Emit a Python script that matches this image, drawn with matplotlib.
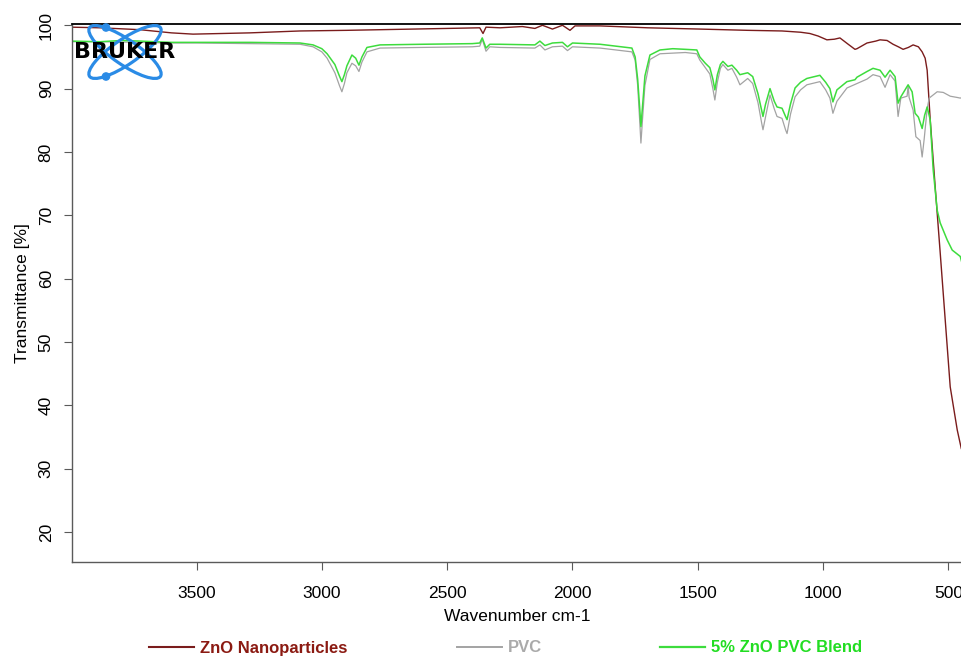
#!/usr/bin/env python3
"""
FTIR overlay: ZnO nanoparticles, neat PVC and the 5% ZnO / PVC blend.
Values read off the instrument printout (Bruker OPUS export).
"""

import matplotlib
matplotlib.use('Agg')
import matplotlib.pyplot as plt
from matplotlib.lines import Line2D
from matplotlib.patches import Ellipse, Circle

# ZnO nanoparticles
wn_zno = [4000, 3885, 3725, 3600, 3514, 3400, 3287, 3087, 2900, 2768,
          2500, 2370, 2357, 2345, 2289, 2200, 2150, 2120, 2080, 2040,
          2010, 1990, 1890, 1700, 1492, 1301, 1164, 1090, 1053, 1020,
          985, 955, 933, 900, 873, 865, 825, 790, 773, 745,
          721, 700, 681, 660, 641, 620, 605, 593, 585, 573,
          553, 533, 513, 493, 465, 449, 445]
t_zno = [99.7, 99.6, 99.3, 98.8, 98.6, 98.7, 98.8, 99.1, 99.2, 99.3,
         99.5, 99.6, 98.7, 99.7, 99.6, 99.8, 99.5, 100.0, 99.4, 100.0,
         99.2, 99.9, 99.9, 99.6, 99.4, 99.2, 99.1, 98.9, 98.7, 98.3,
         97.7, 97.8, 98.0, 97.0, 96.2, 96.3, 97.2, 97.5, 97.7, 97.6,
         97.0, 96.6, 96.2, 96.5, 96.9, 96.6, 95.8, 94.8, 92.9, 85.2,
         74.5, 64.1, 53.5, 42.9, 36.1, 33.2, 32.8]

# neat PVC
wn_pvc = [4000, 3885, 3725, 3600, 3500, 3287, 3087, 3035, 3000, 2979,
          2948, 2930, 2920, 2910, 2900, 2880, 2865, 2852, 2840, 2820,
          2768, 2600, 2400, 2370, 2360, 2345, 2330, 2289, 2150, 2130,
          2110, 2080, 2040, 2020, 2000, 1890, 1763, 1750, 1740, 1732,
          1727, 1720, 1711, 1691, 1651, 1550, 1504, 1492, 1470, 1452,
          1440, 1432, 1422, 1410, 1400, 1380, 1364, 1345, 1332, 1301,
          1281, 1260, 1245, 1240, 1230, 1212, 1195, 1184, 1164, 1150,
          1144, 1130, 1112, 1090, 1065, 1013, 990, 973, 961, 945,
          905, 865, 825, 801, 773, 753, 733, 713, 701, 690,
          665, 661, 657, 641, 630, 613, 605, 597, 585, 577,
          561, 545, 521, 493, 465, 453, 445]
t_pvc = [97.4, 97.4, 97.3, 97.2, 97.2, 97.1, 97.0, 96.6, 95.8, 94.8,
         92.5, 90.5, 89.5, 90.8, 92.5, 94.0, 93.6, 92.7, 94.2, 95.8,
         96.4, 96.5, 96.6, 96.7, 97.8, 95.9, 96.6, 96.5, 96.4, 96.9,
         96.1, 96.6, 96.7, 96.0, 96.6, 96.4, 95.8, 94.5, 90.5, 85.0,
         81.4, 85.5, 90.5, 94.6, 95.5, 95.7, 95.5, 94.5, 93.3, 92.3,
         90.0, 88.2, 91.0, 93.2, 93.8, 92.9, 93.2, 91.8, 90.6, 91.6,
         90.8, 87.8, 84.5, 83.5, 85.5, 89.0, 86.8, 85.6, 85.3, 83.5,
         82.9, 86.0, 88.7, 89.8, 90.6, 91.1, 89.8, 88.5, 86.1, 88.0,
         90.1, 90.8, 91.5, 92.2, 91.9, 90.2, 92.2, 91.2, 85.6, 88.5,
         88.8, 90.5, 88.6, 86.6, 82.4, 81.8, 79.2, 82.0, 86.8, 88.5,
         89.0, 89.5, 89.4, 88.8, 88.6, 88.5, 88.6]

# 5% ZnO in PVC
wn_blend = [4000, 3885, 3800, 3725, 3600, 3500, 3287, 3087, 3035, 3000,
            2979, 2948, 2930, 2920, 2910, 2900, 2880, 2865, 2852, 2840,
            2820, 2768, 2600, 2400, 2370, 2360, 2345, 2330, 2289, 2150,
            2130, 2110, 2080, 2040, 2020, 2000, 1890, 1763, 1750, 1740,
            1732, 1727, 1720, 1711, 1691, 1651, 1600, 1550, 1504, 1492,
            1470, 1452, 1440, 1432, 1422, 1410, 1400, 1380, 1364, 1345,
            1332, 1301, 1281, 1260, 1245, 1240, 1230, 1212, 1195, 1184,
            1164, 1150, 1144, 1130, 1112, 1090, 1065, 1013, 990, 973,
            961, 945, 905, 873, 865, 825, 801, 773, 753, 733,
            713, 701, 690, 661, 645, 633, 620, 605, 595, 585,
            573, 561, 545, 533, 505, 485, 453, 445]
t_blend = [97.5, 97.4, 97.6, 97.5, 97.3, 97.3, 97.3, 97.2, 96.9, 96.3,
           95.5, 93.8, 92.0, 91.1, 92.2, 93.6, 95.3, 94.8, 93.7, 95.0,
           96.5, 96.9, 97.0, 97.1, 97.2, 98.0, 96.4, 97.0, 97.0, 96.9,
           97.5, 96.8, 97.2, 97.3, 96.6, 97.2, 97.0, 96.4, 95.0, 91.5,
           87.0, 84.0, 87.5, 92.0, 95.3, 96.1, 96.3, 96.2, 96.1, 95.0,
           94.0, 93.3, 91.5, 89.8, 92.2, 93.8, 94.3, 93.5, 93.7, 92.9,
           92.2, 92.5, 91.9, 89.2, 86.5, 85.6, 87.5, 90.0, 88.0, 87.1,
           86.9, 85.6, 85.1, 87.6, 90.1, 91.0, 91.6, 92.1, 91.0, 90.0,
           87.9, 89.8, 91.1, 91.4, 91.8, 92.7, 93.2, 92.9, 91.8, 92.9,
           91.9, 87.7, 88.7, 90.6, 89.5, 86.1, 85.5, 83.7, 85.8, 87.1,
           85.1, 77.2, 70.8, 68.8, 66.1, 64.5, 63.5, 62.3]

series = [
    ("ZnO Nanoparticles", wn_zno, t_zno, '#7a1c1c', '#8b1a12', 1.0),
    ("PVC", wn_pvc, t_pvc, '#a3a3a3', '#aaaaaa', 0.9),
    ("5% ZnO PVC Blend", wn_blend, t_blend, '#3ddc3d', '#22dd22', 1.1),
]

W, H = 962, 656


def draw_logo(fig):
    # Bruker atom logo in the top left corner, 1 unit = 1 pixel
    cx, cy = 125, 52
    lax = fig.add_axes([(cx - 48) / W, 1 - (cy + 36) / H, 96 / W, 72 / H])
    lax.set_xlim(-48, 48)
    lax.set_ylim(-36, 36)
    lax.axis('off')
    blue = '#2a8be6'
    # two thin orbits crossing as an X
    for ang in (34.5, -34.5):
        lax.add_patch(Ellipse((0, 0), 86, 25, angle=ang, fill=False,
                              edgecolor=blue, lw=2.3))
    lax.add_patch(Circle((-19, 24.5), 3.6, color=blue))
    lax.add_patch(Circle((-19, -24.5), 3.6, color=blue))
    lax.text(0, -5.5, "BRUKER", ha='center', va='baseline', fontsize=16,
             family='DejaVu Sans', weight='heavy', color='black', clip_on=False)


def main():
    plt.rcParams['font.family'] = ['Liberation Sans', 'DejaVu Sans']
    fig = plt.figure(figsize=(W / 100, H / 100), dpi=100)
    ax = fig.add_axes([71.7 / W, 1 - 561.7 / H, 1 - 71.7 / W, (561.7 - 24) / H])

    for label, wn, t, col, _, lw in series:
        ax.plot(wn, t, color=col, lw=lw, label=label)

    ax.set_xlim(3998, 446)
    ax.set_ylim(15.3, 100.2)
    ax.set_xticks([3500, 3000, 2500, 2000, 1500, 1000, 500])
    ax.set_yticks(range(20, 101, 10))

    for side in ('left', 'bottom'):
        ax.spines[side].set_color('#5a5a5a')
        ax.spines[side].set_linewidth(1.0)
    ax.spines['top'].set_color('black')
    ax.spines['top'].set_linewidth(1.3)
    ax.spines['right'].set_visible(False)

    ax.tick_params(axis='both', direction='out', length=6, width=0.8,
                   color='#5a5a5a', labelsize=12.5)
    ax.tick_params(axis='x', pad=11.5)
    ax.tick_params(axis='y', pad=7, labelrotation=90)
    for lbl in ax.get_yticklabels():
        lbl.set_va('center')

    ax.set_xlabel('Wavenumber cm-1', fontsize=12.5, labelpad=5.5)
    ax.set_ylabel('Transmittance [%]', fontsize=12.5, labelpad=6)

    # legend row under the x label, one entry per sample
    lefts = [149, 457, 660]
    for (label, _, _, col, txtcol, lw), x0 in zip(series, lefts):
        h = Line2D([], [], color=col, lw=lw + 0.5)
        fig.legend([h], [label], loc='center left',
                   bbox_to_anchor=(x0 / W, 1 - 648 / H), frameon=False,
                   borderaxespad=0, borderpad=0, handlelength=2.7,
                   handletextpad=0.35, labelcolor=txtcol,
                   prop={'size': 12, 'weight': 'bold'})

    draw_logo(fig)

    fig.savefig('out.png', dpi=100)


if __name__ == "__main__":
    main()
